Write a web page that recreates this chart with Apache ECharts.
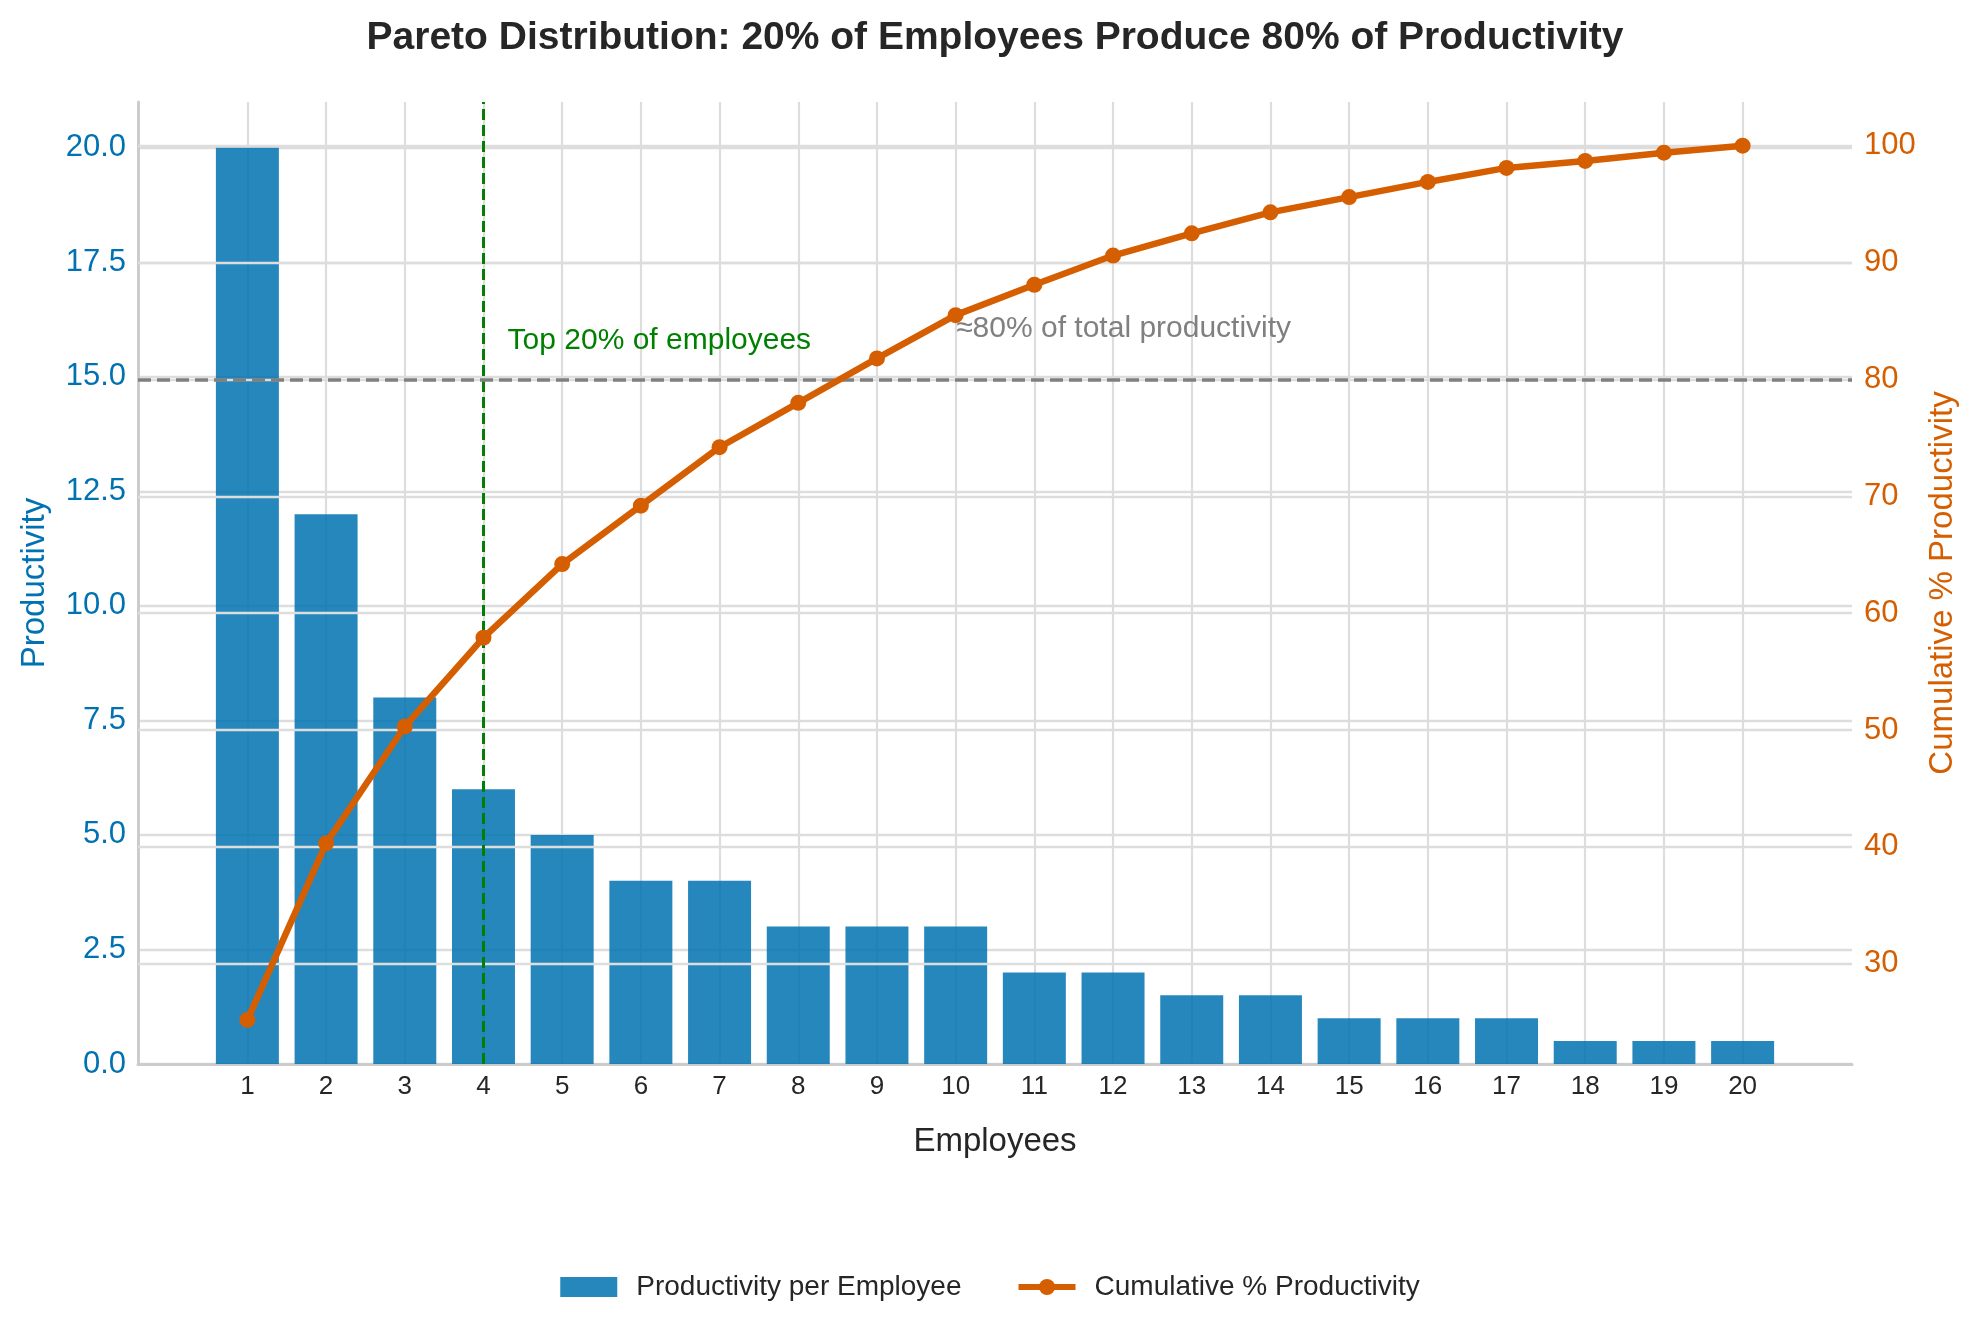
<!DOCTYPE html>
<html>
<head>
<meta charset="utf-8">
<script src="https://cdn.jsdelivr.net/npm/echarts@6/dist/echarts.min.js"></script>
<style>
  html, body { margin: 0; padding: 0; background: #fff; }
  #main { width: 1980px; height: 1332px; }
</style>
</head>
<body>
<div id="main"></div>
<script>
var chartDom = document.getElementById("main");
var myChart = echarts.init(chartDom);
var option;

// data
const employees = [1, 2, 3, 4, 5, 6, 7, 8, 9, 10, 11, 12, 13, 14, 15, 16, 17, 18, 19, 20];
const productivity = [20, 12, 8, 6, 5, 4, 4, 3, 3, 3, 2, 2, 1.5, 1.5, 1, 1, 1, 0.5, 0.5, 0.5];
const cumulativePct = [25.2, 40.3, 50.3, 57.9, 64.2, 69.2, 74.2, 78.0, 81.8, 85.5,
  88.1, 90.6, 92.5, 94.3, 95.6, 96.9, 98.1, 98.7, 99.4, 100];
const leftTicks = [0, 2.5, 5, 7.5, 10, 12.5, 15, 17.5, 20];
const rightTicks = [30, 40, 50, 60, 70, 80, 90, 100];
const cutoffEmployee = 4;
const targetPct = 80;

const FONT = "Liberation Sans";
const BLUE = "#0072b2";
const ORANGE = "#d55e00";
const GRID = "#dddddd";
const SPINE = "#cccccc";
const TEXT = "#262626";

option = {
  animation: false,
  backgroundColor: "#ffffff",
  textStyle: { fontFamily: FONT },
  title: {
    text: "Pareto Distribution: 20% of Employees Produce 80% of Productivity",
    left: 990,
    textAlign: "center",
    top: 14,
    textStyle: { fontFamily: FONT, fontSize: 39, fontWeight: "bold", color: TEXT },
  },
  legend: {
    top: 1268,
    left: "center",
    itemWidth: 57,
    itemHeight: 20,
    itemGap: 54,
    lineStyle: { width: 6 },
    textStyle: { fontFamily: FONT, fontSize: 28, color: TEXT, padding: [0, 0, 0, 14] },
    data: [
      { name: "Productivity per Employee", icon: "rect" },
      { name: "Cumulative % Productivity" },
    ],
  },
  grid: {
    left: 138,
    right: 128,
    top: 102,
    height: 962,
    containLabel: false,
  },
  xAxis: {
    type: "value",
    min: -0.39,
    max: 21.39,
    name: "Employees",
    nameLocation: "middle",
    nameGap: 61,
    nameTextStyle: { fontFamily: FONT, fontSize: 33, color: TEXT },
    axisLine: { show: true, onZero: false, lineStyle: { color: SPINE, width: 3 } },
    axisTick: { show: false, customValues: employees },
    axisLabel: {
      customValues: employees,
      fontFamily: FONT,
      fontSize: 26,
      color: TEXT,
      margin: 10,
    },
    splitLine: { show: true, lineStyle: { color: GRID, width: 2.2 } },
  },
  yAxis: [
    {
      type: "value",
      min: 0,
      max: 21,
      position: "left",
      name: "Productivity",
      nameLocation: "middle",
      nameRotate: 90,
      nameGap: 87,
      nameTextStyle: { fontFamily: FONT, fontSize: 33, color: BLUE },
      axisLine: { show: true, onZero: false, lineStyle: { color: SPINE, width: 3 } },
      axisTick: { show: false, customValues: leftTicks },
      axisLabel: {
        customValues: leftTicks,
        formatter: function (v) { return v.toFixed(1); },
        fontFamily: FONT,
        fontSize: 31,
        color: BLUE,
        margin: 12,
      },
      splitLine: { show: true, lineStyle: { color: GRID, width: 2.4 } },
    },
    {
      type: "value",
      min: 21.42,
      max: 103.74,
      position: "right",
      z: 3,
      name: "Cumulative % Productivity",
      nameLocation: "middle",
      nameRotate: 90,
      nameGap: 73,
      nameTextStyle: { fontFamily: FONT, fontSize: 33, color: ORANGE },
      axisLine: { show: false },
      axisTick: { show: false, customValues: rightTicks },
      axisLabel: {
        customValues: rightTicks,
        fontFamily: FONT,
        fontSize: 31,
        color: ORANGE,
        margin: 12,
      },
      splitLine: { show: true, lineStyle: { color: GRID, width: 2.4 } },
    },
  ],
  series: [
    {
      name: "Productivity per Employee",
      type: "bar",
      xAxisIndex: 0,
      yAxisIndex: 0,
      barWidth: 63,
      z: 2,
      itemStyle: { color: BLUE, opacity: 0.85 },
      data: employees.map(function (e, i) { return [e, productivity[i]]; }),
      markLine: {
        silent: true,
        z: 4,
        symbol: "none",
        label: { show: false },
        lineStyle: { color: "#008000", type: [11, 5], width: 3 },
        data: [{ xAxis: cutoffEmployee }],
      },
    },
    {
      name: "Cumulative % Productivity",
      type: "line",
      xAxisIndex: 0,
      yAxisIndex: 1,
      z: 6,
      symbol: "circle",
      symbolSize: 16,
      color: ORANGE,
      lineStyle: { color: ORANGE, width: 6.5 },
      itemStyle: { color: ORANGE },
      data: employees.map(function (e, i) { return [e, cumulativePct[i]]; }),
      markLine: {
        silent: true,
        z: 4,
        symbol: "none",
        label: { show: false },
        lineStyle: { color: "#808080", type: [13, 6], width: 3.5 },
        data: [{ yAxis: targetPct }],
      },
      markPoint: {
        silent: true,
        symbol: "circle",
        symbolSize: 1,
        itemStyle: { color: "rgba(0,0,0,0)" },
        label: { show: true, position: "right", distance: 0, fontFamily: FONT, fontSize: 30 },
        data: [
          {
            coord: [4.3, 83.3],
            label: { formatter: "Top 20% of employees", color: "#008000" },
          },
          {
            coord: [10, 84.3],
            label: { formatter: "\u224880% of total productivity", color: "#808080" },
          },
        ],
      },
    },
  ],
};

option && myChart.setOption(option);
</script>
</body>
</html>
